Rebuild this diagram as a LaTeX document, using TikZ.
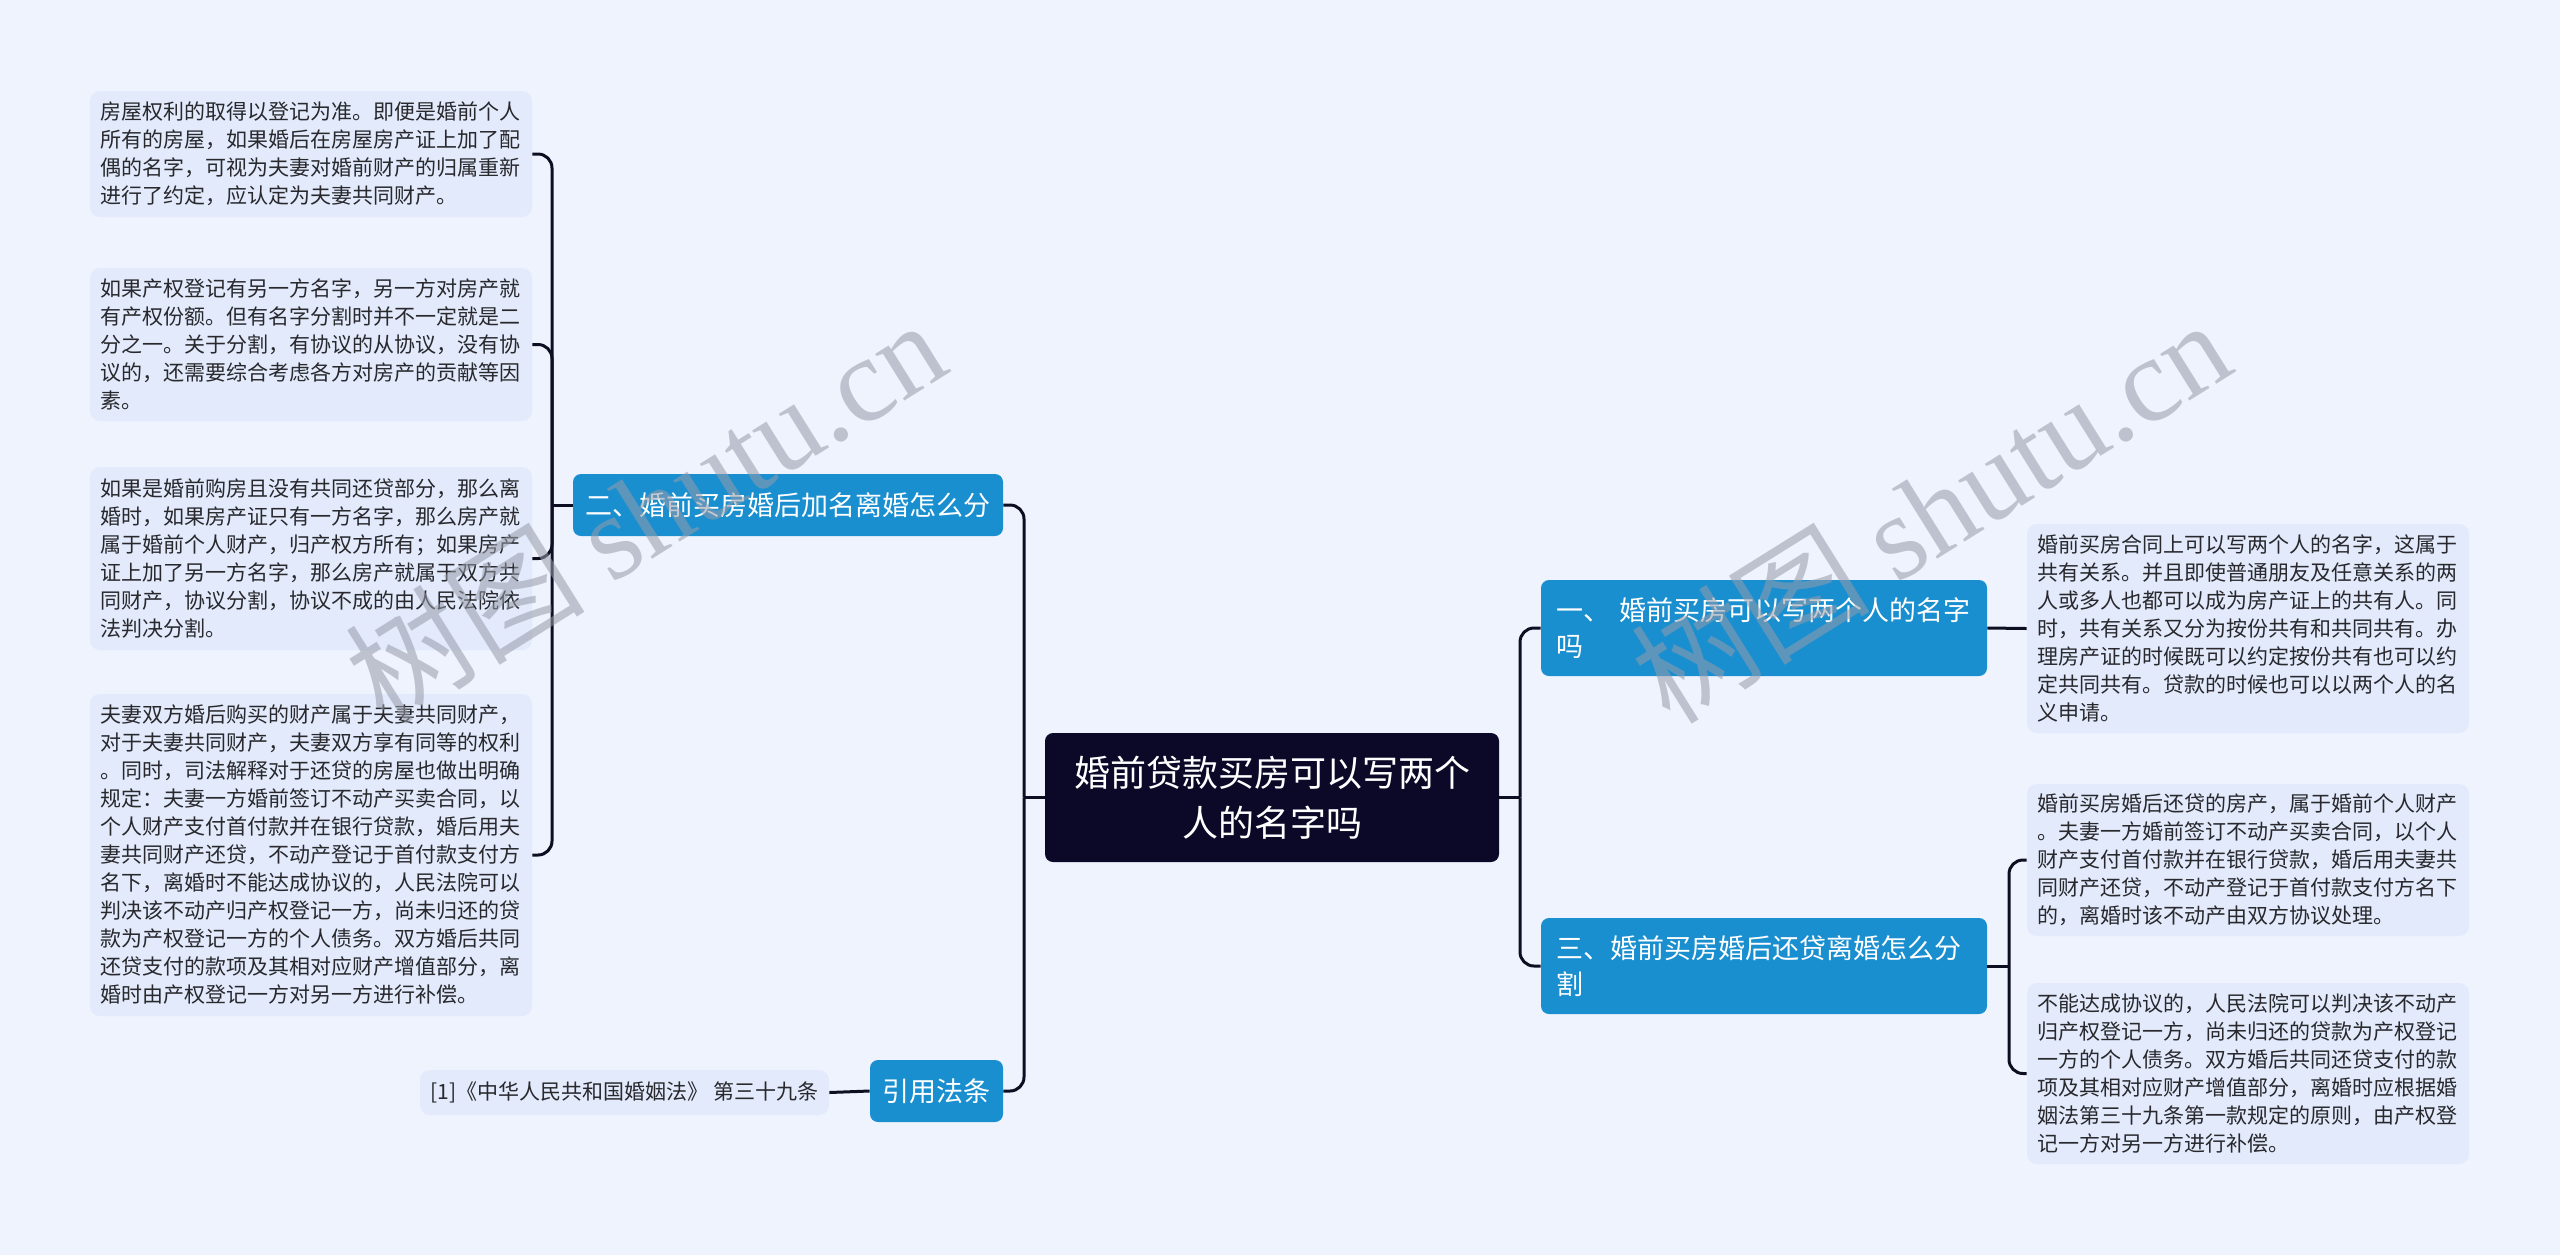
\documentclass[tikz,border=0pt]{standalone}
\usepackage{fontspec}
\setmainfont{Noto Sans CJK SC}
\newfontfamily\wmserif{Liberation Serif}
\definecolor{bgcol}{RGB}{239,243,254}
\definecolor{leafcol}{RGB}{226,234,251}
\definecolor{leaftext}{RGB}{40,40,45}
\definecolor{brcol}{RGB}{26,143,208}
\definecolor{rootcol}{RGB}{11,8,40}
\definecolor{conncol}{RGB}{14,14,34}
\definecolor{wmcol}{RGB}{150,155,168}
\begin{document}
\begin{tikzpicture}[x=0.5pt,y=-0.5pt,
  leafbox/.style={fill=leafcol, rounded corners=5pt, text=leaftext,
    font=\fontsize{10.5pt}{14pt}\selectfont, text width=211pt, align=left,
    inner xsep=5pt, inner ysep=0pt, minimum width=221pt},
  branchbox/.style={fill=brcol, rounded corners=4pt, text=white,
    font=\fontsize{13.5pt}{18pt}\selectfont, inner ysep=0pt},
  rootbox/.style={fill=rootcol, rounded corners=4pt, text=white,
    font=\fontsize{18pt}{25pt}\selectfont, align=center, inner ysep=0pt},
  conn/.style={draw=conncol, line width=1.5pt, rounded corners=7pt},
  wm/.style={rotate=32, text=wmcol, opacity=0.55,
    font=\fontsize{60pt}{60pt}\selectfont}]
\useasboundingbox (0,0) rectangle (2560,1255);
\fill[bgcol] (0,0) rectangle (2560,1255);

% root
\node[rootbox, minimum width=227pt, minimum height=64.5pt] (root) at (1272,797.5)
  {婚前贷款买房可以写两个\\人的名字吗};

% branches
\node[branchbox, text width=208pt, align=left, inner xsep=7.5pt, minimum height=48pt] (b1) at (1764,628)
  {一、 婚前买房可以写两个人的名字\\吗};
\node[branchbox, text width=208pt, align=left, inner xsep=7.5pt, minimum height=48pt] (b3) at (1764,966)
  {三、婚前买房婚后还贷离婚怎么分\\割};
\node[branchbox, minimum width=215pt, minimum height=31pt] (b2) at (788,505)
  {二、婚前买房婚后加名离婚怎么分};
\node[branchbox, minimum width=66.5pt, minimum height=31pt] (bref) at (936.5,1091)
  {引用法条};

% leaves right
\node[leafbox, minimum height=104.5pt] (l1) at (2248,628.5)
  {婚前买房合同上可以写两个人的名字，这属于\\共有关系。并且即使普通朋友及任意关系的两\\人或多人也都可以成为房产证上的共有人。同\\时，共有关系又分为按份共有和共同共有。办\\理房产证的时候既可以约定按份共有也可以约\\定共同共有。贷款的时候也可以以两个人的名\\义申请。};
\node[leafbox, minimum height=76pt] (l3a) at (2248,860)
  {婚前买房婚后还贷的房产，属于婚前个人财产\\。夫妻一方婚前签订不动产买卖合同，以个人\\财产支付首付款并在银行贷款，婚后用夫妻共\\同财产还贷，不动产登记于首付款支付方名下\\的，离婚时该不动产由双方协议处理。};
\node[leafbox, minimum height=90.5pt] (l3b) at (2248,1073.5)
  {不能达成协议的，人民法院可以判决该不动产\\归产权登记一方，尚未归还的贷款为产权登记\\一方的个人债务。双方婚后共同还贷支付的款\\项及其相对应财产增值部分，离婚时应根据婚\\姻法第三十九条第一款规定的原则，由产权登\\记一方对另一方进行补偿。};

% leaves left
\node[leafbox, minimum height=63pt] (l2a) at (311,154)
  {房屋权利的取得以登记为准。即便是婚前个人\\所有的房屋，如果婚后在房屋房产证上加了配\\偶的名字，可视为夫妻对婚前财产的归属重新\\进行了约定，应认定为夫妻共同财产。};
\node[leafbox, minimum height=76.5pt] (l2b) at (311,344.5)
  {如果产权登记有另一方名字，另一方对房产就\\有产权份额。但有名字分割时并不一定就是二\\分之一。关于分割，有协议的从协议，没有协\\议的，还需要综合考虑各方对房产的贡献等因\\素。};
\node[leafbox, minimum height=91.5pt] (l2c) at (311,558.5)
  {如果是婚前购房且没有共同还贷部分，那么离\\婚时，如果房产证只有一方名字，那么房产就\\属于婚前个人财产，归产权方所有；如果房产\\证上加了另一方名字，那么房产就属于双方共\\同财产，协议分割，协议不成的由人民法院依\\法判决分割。};
\node[leafbox, minimum height=161pt] (l2d) at (311,855)
  {夫妻双方婚后购买的财产属于夫妻共同财产，\\对于夫妻共同财产，夫妻双方享有同等的权利\\。同时，司法解释对于还贷的房屋也做出明确\\规定：夫妻一方婚前签订不动产买卖合同，以\\个人财产支付首付款并在银行贷款，婚后用夫\\妻共同财产还贷，不动产登记于首付款支付方\\名下，离婚时不能达成协议的，人民法院可以\\判决该不动产归产权登记一方，尚未归还的贷\\款为产权登记一方的个人债务。双方婚后共同\\还贷支付的款项及其相对应财产增值部分，离\\婚时由产权登记一方对另一方进行补偿。};
\node[fill=leafcol, rounded corners=5pt, text=leaftext, font=\fontsize{10.5pt}{14pt}\selectfont,
  minimum width=204.5pt, minimum height=22.5pt, inner sep=0pt] (lref) at (624.5,1092.5)
  {[1]《中华人民共和国婚姻法》 第三十九条};

% junctions
\coordinate (jL) at (1024,797.5);
\coordinate (jR) at (1520,797.5);
\coordinate (j2) at (552,505);
\coordinate (j3) at (2009,966);

% connectors
\draw[conn] (root.west) -- (jL);
\draw[conn] (b2.east) -| (jL);
\draw[conn] (bref.east) -| (jL);
\draw[conn] (root.east) -- (jR);
\draw[conn] (b1.west) -| (jR);
\draw[conn] (b3.west) -| (jR);
\draw[conn] (b1.east) -- (l1.west);
\draw[conn] (b3.east) -- (j3);
\draw[conn] (l3a.west) -| (j3);
\draw[conn] (l3b.west) -| (j3);
\draw[conn] (b2.west) -- (j2);
\draw[conn] (l2a.east) -| (j2);
\draw[conn] (l2b.east) -| (j2);
\draw[conn] (l2c.east) -| (j2);
\draw[conn] (l2d.east) -| (j2);
\draw[conn] (bref.west) -- (lref.east);

% watermarks
\node[wm] (wm1) at (645,510) {树图 {\wmserif shutu.cn}};
\node[wm] (wm2) at (1930,510) {树图 {\wmserif shutu.cn}};
\end{tikzpicture}
\end{document}
